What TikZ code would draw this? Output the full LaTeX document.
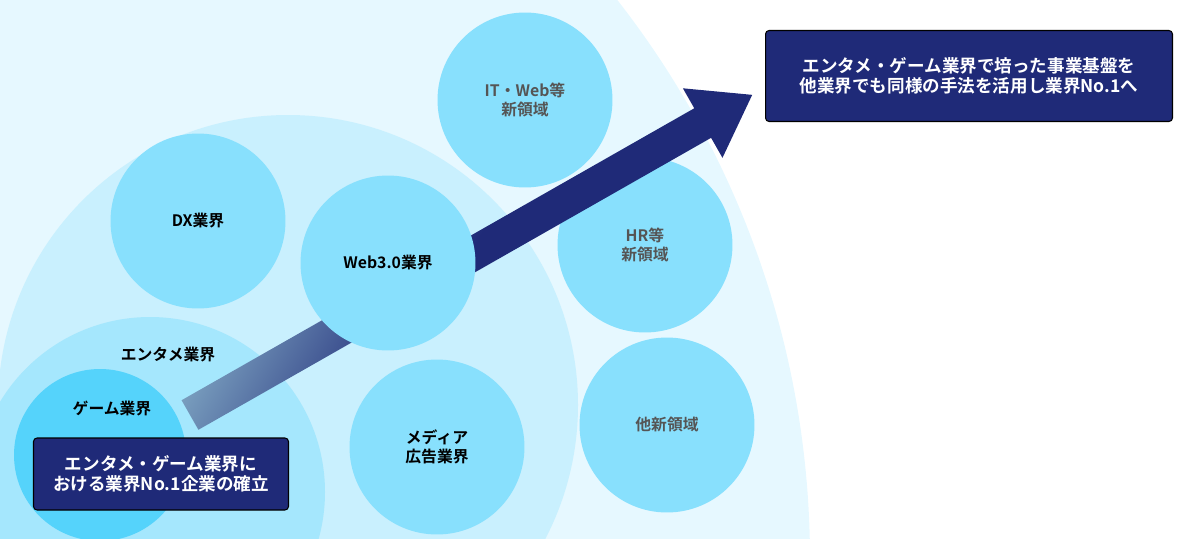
\documentclass[tikz,border=0pt]{standalone}
\usepackage{fontspec}
\setmainfont{Noto Sans CJK JP Bold}
\usetikzlibrary{positioning}
\definecolor{outerc}{HTML}{E6F8FF}
\definecolor{midc}{HTML}{C9F0FE}
\definecolor{entc}{HTML}{A5E7FD}
\definecolor{gamec}{HTML}{55D3FB}
\definecolor{bubc}{HTML}{88E0FD}
\definecolor{navyc}{HTML}{1F2A78}
\definecolor{greyc}{HTML}{555555}
\tikzset{
  bubble/.style={circle,fill=bubc,minimum size=3.5cm,inner sep=0pt,align=center,font=\small},
  dimtext/.style={text=greyc},
  notebox/.style={fill=navyc,draw=black,line width=0.6pt,rounded corners=2pt,text=white,align=center,inner sep=0pt}
}
\begin{document}
\begin{tikzpicture}[x=0.02cm,y=-0.02cm]
\useasboundingbox (0,0) rectangle (1200,538);
\begin{scope}
\clip (0,0) rectangle (1200,538);
\fill[outerc] (-100,560) circle[radius=910];
\fill[midc] (288,405) circle[radius=290];
\fill[entc] (150,492) circle[radius=175];
\fill[gamec] (100,455) circle[radius=86];
\end{scope}
\node[bubble,dimtext] (it) at (525,100) {IT・Web等\\新領域};
\node[bubble] (dx) at (198,221) {DX業界};
\node[bubble,dimtext] (hr) at (645,245) {HR等\\新領域};
\node[bubble] (media) at (437,447) {メディア\\広告業界};
\node[bubble,dimtext] (other) at (667,425) {他新領域};
% rising arrow
\begin{scope}[shift={(190,415)},rotate=29.66]
\shade[left color=entc!70!gray,right color=navyc,middle color=navyc,shading angle=60]
  (0,-17) -- (590,-17) -- (590,-40) -- (647,0) -- (590,40) -- (590,17) -- (0,17) -- cycle;
\end{scope}
\node[bubble] (web) at (388,263) {Web3.0業界};
\node[font=\small] (ent) at (168,355) {エンタメ業界};
\node[font=\small] (game) at (112,408) {ゲーム業界};
\node[notebox,minimum width=5.1cm,minimum height=1.44cm,font=\normalsize\linespread{0.95}\selectfont] (goal1) at (161,474) {エンタメ・ゲーム業界に\\おける業界No.1企業の確立};
\node[notebox,minimum width=8.14cm,minimum height=1.82cm,font=\normalsize\linespread{0.95}\selectfont] (goal2) at (969,76) {エンタメ・ゲーム業界で培った事業基盤を\\他業界でも同様の手法を活用し業界No.1へ};
\end{tikzpicture}
\end{document}
